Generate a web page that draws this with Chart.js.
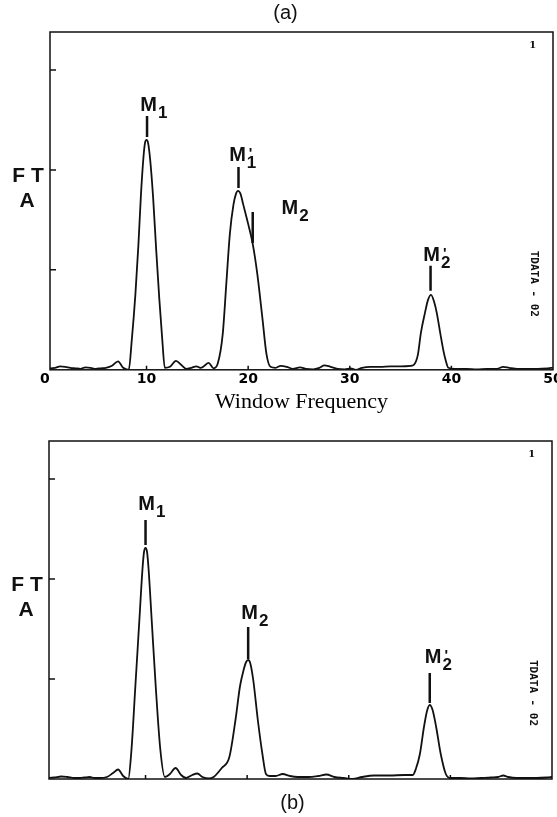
<!DOCTYPE html>
<html>
<head>
<meta charset="utf-8">
<script src="https://cdn.jsdelivr.net/npm/chart.js@4.4.1/dist/chart.umd.min.js"></script>
<style>
body { margin: 0; background: #fff; }
canvas { display: block; }
</style>
</head>
<body>
<canvas id="chartA" width="557" height="420"></canvas>
<canvas id="chartB" width="557" height="397"></canvas>
<script>
// axis ticks (labels only shown on panel a)
var xTicks = [0, 10, 20, 30, 40, 50];
var yTicks = [1, 2, 3];

// panel (a) trace
var freqA = [0, 1, 1.5, 2, 2.5, 3, 3.5, 4, 4.5, 5, 5.5, 6, 6.6, 7.2, 7.7,
    8.25, 8.55, 8.9, 9.2, 9.45, 9.7, 9.85, 10, 10.15, 10.35, 10.65, 10.95, 11.25, 11.55, 11.8,
    12.3, 12.9, 13.4, 13.9, 14.4, 14.9, 15.3, 15.7, 16.1, 16.6,
    17, 17.5, 17.85, 18.2, 18.55, 18.8, 19, 19.25, 19.5, 20, 20.45, 20.9, 21.4, 21.8, 22.2,
    22.7, 23.2, 23.8, 24.4, 25.1, 25.7, 26.4, 27, 27.5, 28.1, 28.8, 29.5, 30.1, 30.6, 31.2,
    32, 33, 34, 35, 36, 36.3, 36.7, 37, 37.4, 37.7, 38, 38.3, 38.56, 38.9, 39.2, 39.4, 39.7,
    40.3, 41.5, 42.5, 43.5, 44.5, 45.1, 45.7, 46.5, 47.5, 48.5, 49.5, 50];
var ampA = [0.01, 0.02, 0.035, 0.03, 0.02, 0.015, 0.01, 0.025, 0.02, 0.01, 0.015, 0.02, 0.04, 0.085, 0.02,
    0, 0.3, 0.75, 1.25, 1.75, 2.13, 2.27, 2.3, 2.27, 2.11, 1.72, 1.2, 0.72, 0.3, 0.02,
    0.03, 0.09, 0.05, 0.01, 0.02, 0.035, 0.02, 0.04, 0.07, 0.015,
    0.06, 0.36, 0.86, 1.36, 1.65, 1.76, 1.79, 1.76, 1.66, 1.46, 1.26, 0.96, 0.52, 0.16, 0.03,
    0.02, 0.04, 0.03, 0.01, 0.025, 0.01, 0.005, 0.02, 0.045, 0.03, 0.01, 0.005, 0.015, 0, 0.02,
    0.03, 0.03, 0.035, 0.035, 0.04, 0.05, 0.15, 0.37, 0.57, 0.7, 0.75, 0.68, 0.57, 0.37, 0.2, 0.11, 0.02,
    0.01, 0.01, 0.005, 0.01, 0.01, 0.03, 0.02, 0.01, 0.01, 0.01, 0.015, 0.02];

// panel (b) trace
var freqB = [0, 1, 1.7, 2.3, 3, 3.5, 4, 4.5, 5, 5.5, 6.2, 6.8, 7.3, 7.8,
    8.3, 8.6, 9, 9.4, 9.7, 9.85, 10, 10.15, 10.3, 10.6, 11, 11.45, 11.9,
    12.4, 12.95, 13.5, 14, 14.6, 15.1, 15.6, 16.2, 16.7, 17.5,
    18.25, 18.85, 19.3, 19.65, 19.9, 20.1, 20.3, 20.6, 21.05, 21.5, 21.85, 22.2,
    22.8, 23.5, 24.2, 25, 26, 27, 27.8, 28.6, 29.5, 30.4, 31.3, 32.5, 34, 35.5, 36.3,
    36.6, 37, 37.4, 37.7, 37.97, 38.25, 38.6, 39.05, 39.55, 40,
    41, 42, 43, 44, 44.7, 45.2, 45.7, 46.5, 47.5, 48.5, 49.5, 50];
var ampB = [0.01, 0.015, 0.025, 0.02, 0.01, 0.01, 0.015, 0.02, 0.01, 0.01, 0.02, 0.06, 0.095, 0.03,
    0, 0.27, 0.93, 1.6, 2.1, 2.27, 2.31, 2.27, 2.1, 1.6, 0.93, 0.3, 0.02,
    0.05, 0.11, 0.04, 0.01, 0.04, 0.055, 0.02, 0.005, 0.02, 0.11,
    0.22, 0.59, 0.93, 1.09, 1.17, 1.19, 1.16, 0.99, 0.59, 0.25, 0.05, 0.03,
    0.03, 0.05, 0.03, 0.02, 0.02, 0.03, 0.045, 0.02, 0.01, 0, 0.02, 0.035, 0.035, 0.04, 0.04,
    0.1, 0.25, 0.52, 0.68, 0.74, 0.69, 0.52, 0.25, 0.05, 0.01,
    0.01, 0.005, 0.01, 0.015, 0.02, 0.035, 0.02, 0.01, 0.01, 0.01, 0.015, 0.02];

// peak marker ticks and labels, panel (a)
var markAx = [10.05, 19.05, 20.45, 37.95];
var markAlo = [2.33, 1.82, 1.27, 0.79];
var markAhi = [2.54, 2.03, 1.58, 1.04];
var labAx = [10.2, 18.95, 24.1, 38.05];
var labAy = [2.59, 2.09, 1.56, 1.09];
var labAsub = ['1', '1', '2', '2'];
var labAprime = [false, true, false, true];

// peak marker ticks and labels, panel (b)
var markBx = [10.0, 20.1, 37.97];
var markBlo = [2.34, 1.20, 0.76];
var markBhi = [2.59, 1.52, 1.06];
var labBx = [10.1, 20.25, 38.3];
var labBy = [2.69, 1.60, 1.16];
var labBsub = ['1', '2', '2'];
var labBprime = [false, false, true];

function points(xs, ys) {
    return xs.map(function (x, i) { return { x: x, y: ys[i] }; });
}

function decor(o) {
    return {
        id: 'decor',
        afterDraw: function (chart) {
            var ctx = chart.ctx, a = chart.chartArea, xs = chart.scales.x, ys = chart.scales.y;
            ctx.save();
            ctx.strokeStyle = '#111';
            ctx.fillStyle = '#111';
            ctx.lineWidth = 1.5;
            ctx.strokeRect(a.left, a.top, a.right - a.left, a.bottom - a.top);

            // small inward ticks
            ctx.beginPath();
            xTicks.forEach(function (v) {
                if (v <= xs.min || v >= xs.max) return;
                var px = xs.getPixelForValue(v);
                ctx.moveTo(px, a.bottom);
                ctx.lineTo(px, a.bottom - 4);
            });
            yTicks.forEach(function (v) {
                var py = ys.getPixelForValue(v);
                ctx.moveTo(a.left, py);
                ctx.lineTo(a.left + 6, py);
            });
            ctx.stroke();

            // peak markers
            ctx.lineWidth = 2.5;
            ctx.beginPath();
            o.markX.forEach(function (v, i) {
                var px = xs.getPixelForValue(v);
                ctx.moveTo(px, ys.getPixelForValue(o.markLo[i]));
                ctx.lineTo(px, ys.getPixelForValue(o.markHi[i]));
            });
            ctx.stroke();

            // M labels
            ctx.textBaseline = 'alphabetic';
            o.labX.forEach(function (v, i) {
                var px = xs.getPixelForValue(v), py = ys.getPixelForValue(o.labY[i]);
                ctx.font = 'bold 20px "Liberation Sans"';
                ctx.textAlign = 'center';
                ctx.fillText('M', px, py);
                var w = ctx.measureText('M').width / 2;
                ctx.textAlign = 'left';
                ctx.font = 'bold 17px "Liberation Sans"';
                ctx.fillText(o.labSub[i], px + w + 1, py + 7);
                if (o.labPrime[i]) {
                    ctx.font = 'bold 15px "Liberation Sans"';
                    ctx.fillText("'", px + w + 3, py - 3);
                }
            });

            // FT / A
            ctx.textAlign = 'center';
            ctx.font = 'bold 21px "Liberation Sans"';
            var y2 = ys.getPixelForValue(2);
            ctx.fillText('F T', a.left - 22, y2 + 12);
            ctx.fillText('A', a.left - 23, y2 + 37);

            // plot number and run id
            ctx.font = 'bold 10px "DejaVu Serif"';
            ctx.textBaseline = 'middle';
            ctx.fillText('1', xs.getPixelForValue(48), ys.getPixelForValue(3.25));
            ctx.save();
            ctx.translate(xs.getPixelForValue(48.1), ys.getPixelForValue(0.86));
            ctx.rotate(Math.PI / 2);
            ctx.font = 'bold 11px "DejaVu Sans Mono"';
            ctx.fillText('TDATA - 02', 0, 0);
            ctx.restore();

            // panel letter
            ctx.font = '20px "Liberation Sans"';
            ctx.fillText(o.tag, (a.left + a.right) / 2 + o.tagDx, o.tagTop ? a.top - 19 : a.bottom + 24);
            ctx.restore();
        }
    };
}

function makeChart(id, xs, ys, showLabels, pad, o) {
    return new Chart(document.getElementById(id), {
        type: 'line',
        data: {
            datasets: [{
                data: points(xs, ys),
                borderColor: '#111',
                borderWidth: 1.8,
                pointRadius: 0,
                cubicInterpolationMode: 'monotone',
                fill: false
            }]
        },
        options: {
            responsive: false,
            animation: false,
            layout: { padding: pad },
            plugins: { legend: { display: false }, tooltip: { enabled: false } },
            scales: {
                x: {
                    type: 'linear',
                    min: 0.5,
                    max: 50,
                    afterBuildTicks: function (s) { s.ticks = xTicks.map(function (v) { return { value: v }; }); },
                    afterFit: function (s) { s.paddingLeft = 0; s.paddingRight = 0; },
                    grid: { display: false, drawTicks: false },
                    border: { display: false },
                    ticks: {
                        display: showLabels,
                        padding: 1,
                        autoSkip: false,
                        maxRotation: 0,
                        color: '#000',
                        font: { family: 'DejaVu Sans', size: 14, weight: 'bold' }
                    },
                    title: {
                        display: showLabels,
                        text: 'Window Frequency',
                        color: '#000',
                        padding: { top: 0, bottom: 0 },
                        font: { family: 'Liberation Serif', size: 22 }
                    }
                },
                y: {
                    min: 0,
                    max: 3.38,
                    ticks: { display: false, stepSize: 1 },
                    grid: { display: false, drawTicks: false },
                    border: { display: false }
                }
            }
        },
        plugins: [decor(o)]
    });
}

makeChart('chartA', freqA, ampA, true, { left: 50, right: 4, top: 32, bottom: 5 }, {
    markX: markAx, markLo: markAlo, markHi: markAhi,
    labX: labAx, labY: labAy, labSub: labAsub, labPrime: labAprime,
    tag: '(a)', tagDx: -16, tagTop: true
});

makeChart('chartB', freqB, ampB, false, { left: 49, right: 5, top: 21, bottom: 38 }, {
    markX: markBx, markLo: markBlo, markHi: markBhi,
    labX: labBx, labY: labBy, labSub: labBsub, labPrime: labBprime,
    tag: '(b)', tagDx: -8, tagTop: false
});
</script>
</body>
</html>
